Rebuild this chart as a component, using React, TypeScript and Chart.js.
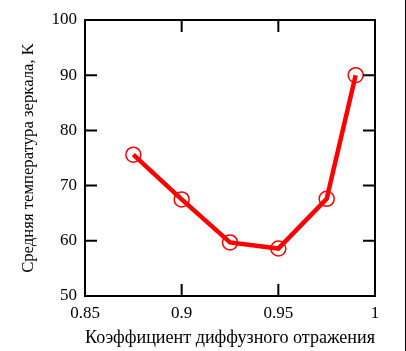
import React, { useEffect, useRef } from "react";
import { Chart, registerables } from "chart.js";

Chart.register(...registerables);

const xValues = [0.875, 0.9, 0.925, 0.95, 0.975, 0.99];
const yValues = [75.6, 67.5, 59.7, 58.6, 67.6, 90.0];
const xTicks = [0.85, 0.9, 0.95, 1];
const yTicks = [50, 60, 70, 80, 90, 100];
const xTitle = "Коэффициент диффузного отражения";
const yTitle = "Средняя температура зеркала, K";

const FONT = "'Liberation Serif', 'Times New Roman', serif";

const boxPlugin = {
  id: "boxPlugin",
  afterDatasetsDraw(chart: any) {
    const { ctx, chartArea } = chart;
    const xs = chart.scales.x;
    const ys = chart.scales.y;
    const { left, right, top, bottom } = chartArea;
    ctx.save();
    ctx.strokeStyle = "#000";
    ctx.lineWidth = 2;
    ctx.beginPath();
    ctx.rect(left, top, right - left, bottom - top);
    ctx.stroke();
    const tl = 12;
    ctx.beginPath();
    xTicks.forEach((v) => {
      const px = xs.getPixelForValue(v);
      ctx.moveTo(px, bottom);
      ctx.lineTo(px, bottom - tl);
      ctx.moveTo(px, top);
      ctx.lineTo(px, top + tl);
    });
    yTicks.forEach((v) => {
      const py = ys.getPixelForValue(v);
      ctx.moveTo(left, py);
      ctx.lineTo(left + tl, py);
      ctx.moveTo(right, py);
      ctx.lineTo(right - tl, py);
    });
    ctx.stroke();
    ctx.lineWidth = 1;
    ctx.beginPath();
    ctx.moveTo(chart.width - 0.5, 0);
    ctx.lineTo(chart.width - 0.5, chart.height);
    ctx.stroke();
    ctx.restore();
  },
};

export default function App() {
  const ref = useRef<HTMLCanvasElement>(null);
  useEffect(() => {
    if (!ref.current) return;
    const chart = new Chart(ref.current, {
      type: "line",
      data: {
        datasets: [
          {
            data: xValues.map((x, i) => ({ x, y: yValues[i] })),
            borderColor: "#ff0000",
            borderWidth: 4.5,
            pointRadius: 7.5,
            pointBorderWidth: 1.5,
            pointBorderColor: "#ff0000",
            pointBackgroundColor: "rgba(0,0,0,0)",
            tension: 0,
          },
        ],
      },
      options: {
        animation: false,
        responsive: false,
        events: [],
        layout: { padding: { left: 0, top: 20, right: 31, bottom: 0 } },
        plugins: { legend: { display: false }, tooltip: { enabled: false } },
        scales: {
          x: {
            type: "linear",
            min: 0.85,
            max: 1,
            afterBuildTicks: (s: any) => {
              s.ticks = xTicks.map((v) => ({ value: v }));
            },
            afterFit: (s: any) => {
              s.height = 55;
            },
            grid: { display: false, drawTicks: false },
            border: { display: false },
            ticks: {
              color: "#000",
              font: { family: FONT, size: 17 },
              padding: 7,
              maxRotation: 0,
              autoSkip: false,
              callback: (v: any) => String(v),
            },
            title: {
              display: true,
              text: xTitle,
              color: "#000",
              font: { family: FONT, size: 18.4 },
              padding: { top: 0, bottom: 2 },
            },
          },
          y: {
            type: "linear",
            min: 50,
            max: 100,
            afterBuildTicks: (s: any) => {
              s.ticks = yTicks.map((v) => ({ value: v }));
            },
            afterFit: (s: any) => {
              s.width = 85;
            },
            grid: { display: false, drawTicks: false },
            border: { display: false },
            ticks: {
              color: "#000",
              font: { family: FONT, size: 17 },
              padding: 8,
              autoSkip: false,
            },
            title: {
              display: true,
              text: yTitle,
              color: "#000",
              font: { family: FONT, size: 16.7 },
              padding: { top: 19, bottom: 0 },
            },
          },
        },
      },
      plugins: [boxPlugin],
    });
    return () => chart.destroy();
  }, []);
  return (
    <div style={{ position: "fixed", left: 0, top: 0, width: 406, height: 351, background: "#fff" }}>
      <canvas ref={ref} width={406} height={351} style={{ width: 406, height: 351 }} />
    </div>
  );
}
